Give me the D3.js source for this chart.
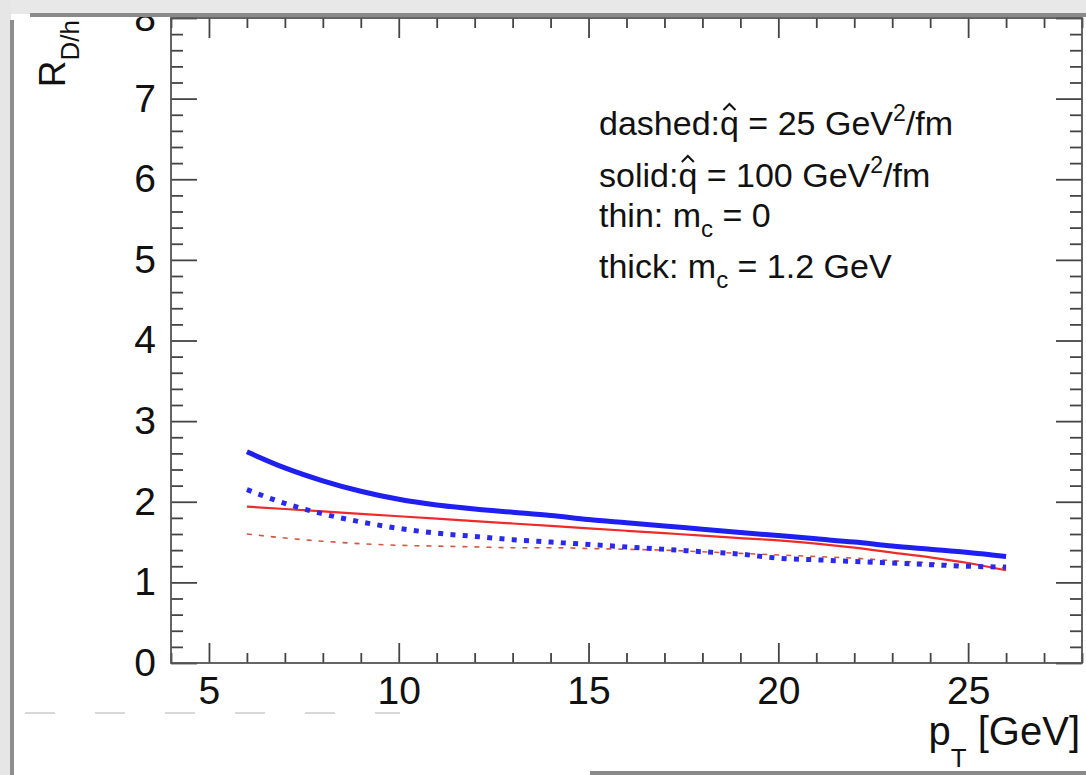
<!DOCTYPE html>
<html>
<head>
<meta charset="utf-8">
<script src="https://cdn.jsdelivr.net/npm/d3@7/dist/d3.min.js"></script>
<style>
    body { margin: 0; background: #fff; }
    svg { display: block; }
    text { font-family: "Liberation Sans", Arial, sans-serif; fill: #111; }
</style>
</head>
<body>
<div id="chart"></div>
<script>
    // pT grid of the curves [GeV]
    var pt = [6, 7, 8, 9, 10, 11, 12, 13, 14, 15, 16, 17, 18, 19, 20, 21, 22, 23, 24, 25, 26];

    // R_D/h
    var solid_thick = [2.62, 2.42, 2.26, 2.13, 2.03, 1.96, 1.91, 1.87, 1.83, 1.78, 1.74, 1.70, 1.66, 1.62, 1.58, 1.54, 1.50, 1.45, 1.41, 1.37, 1.32];   // qhat=100, mc=1.2
    var solid_thin  = [1.94, 1.91, 1.88, 1.85, 1.82, 1.79, 1.76, 1.73, 1.70, 1.67, 1.64, 1.61, 1.58, 1.55, 1.52, 1.48, 1.43, 1.37, 1.31, 1.24, 1.15];   // qhat=100, mc=0
    var dashed_thick = [2.15, 1.98, 1.85, 1.75, 1.67, 1.61, 1.57, 1.53, 1.50, 1.47, 1.44, 1.41, 1.38, 1.35, 1.30, 1.28, 1.26, 1.24, 1.22, 1.20, 1.19]; // qhat=25, mc=1.2
    var dashed_thin  = [1.60, 1.55, 1.51, 1.48, 1.46, 1.45, 1.44, 1.43, 1.43, 1.42, 1.41, 1.40, 1.38, 1.36, 1.34, 1.32, 1.30, 1.27, 1.24, 1.21, 1.18]; // qhat=25, mc=0

    var x_domain = [4, 28],
        y_domain = [0, 8];
    var x_major = [5, 10, 15, 20, 25],
        x_minor = d3.range(4, 29, 1).filter(function(v){ return v % 5 != 0; }),
        y_major = [0, 1, 2, 3, 4, 5, 6, 7, 8],
        y_minor = d3.range(1, 40).map(function(i){ return i * 0.2; }).filter(function(v){ return Math.abs(v - Math.round(v)) > 0.01; });

    var legend_lines = [
        {pre: 'dashed:', hat: 'q', post: ' = 25 GeV', sup: '2', tail: '/fm'},
        {pre: 'solid:', hat: 'q', post: ' = 100 GeV', sup: '2', tail: '/fm'},
        {pre: 'thin: m', sub: 'c', post: ' = 0'},
        {pre: 'thick: m', sub: 'c', post: ' = 1.2 GeV'}
    ];

    var width = 1086, height = 775;
    var frame = {left: 171, right: 1082, top: 18, bottom: 663};

    var x_scale = d3.scaleLinear().domain(x_domain).range([frame.left, frame.right]);
    var y_scale = d3.scaleLinear().domain(y_domain).range([frame.bottom, frame.top]);

    var svg = d3.select('#chart').append('svg')
        .attr('width', width)
        .attr('height', height);

    svg.append('rect').attr('width', width).attr('height', height).attr('fill', '#fff');

    // ticks, ROOT style: all pointing inward, on all four sides
    function style_axis(g){
        g.select('.domain').remove();
        g.selectAll('line').attr('stroke', '#444').attr('stroke-width', 1.8);
        g.selectAll('text').attr('font-size', 39).attr('fill', '#111')
            .style('font-family', '"Liberation Sans", Arial, sans-serif');
    }

    svg.append('g').attr('transform', 'translate(0,' + frame.bottom + ')')
        .call(d3.axisBottom(x_scale).tickValues(x_major).tickSize(-20).tickPadding(13).tickFormat(d3.format('d')))
        .call(style_axis);
    svg.append('g').attr('transform', 'translate(0,' + frame.bottom + ')')
        .call(d3.axisBottom(x_scale).tickValues(x_minor).tickSize(-10).tickFormat(''))
        .call(style_axis);
    svg.append('g').attr('transform', 'translate(0,' + frame.top + ')')
        .call(d3.axisTop(x_scale).tickValues(x_major).tickSize(-20).tickFormat(''))
        .call(style_axis);
    svg.append('g').attr('transform', 'translate(0,' + frame.top + ')')
        .call(d3.axisTop(x_scale).tickValues(x_minor).tickSize(-10).tickFormat(''))
        .call(style_axis);

    svg.append('g').attr('transform', 'translate(' + frame.left + ',0)')
        .call(d3.axisLeft(y_scale).tickValues(y_major).tickSize(-26).tickPadding(15).tickFormat(d3.format('d')))
        .call(style_axis);
    svg.append('g').attr('transform', 'translate(' + frame.left + ',0)')
        .call(d3.axisLeft(y_scale).tickValues(y_minor).tickSize(-12).tickFormat(''))
        .call(style_axis);
    svg.append('g').attr('transform', 'translate(' + frame.right + ',0)')
        .call(d3.axisRight(y_scale).tickValues(y_major).tickSize(-26).tickFormat(''))
        .call(style_axis);
    svg.append('g').attr('transform', 'translate(' + frame.right + ',0)')
        .call(d3.axisRight(y_scale).tickValues(y_minor).tickSize(-12).tickFormat(''))
        .call(style_axis);

    svg.append('rect')
        .attr('x', frame.left).attr('y', frame.top)
        .attr('width', frame.right - frame.left).attr('height', frame.bottom - frame.top)
        .attr('fill', 'none').attr('stroke', '#555').attr('stroke-width', 1.8);

    // curves
    var line = d3.line()
        .x(function(d){ return x_scale(d[0]); })
        .y(function(d){ return y_scale(d[1]); })
        .curve(d3.curveMonotoneX);

    function pairs(vals){ return pt.map(function(p, i){ return [p, vals[i]]; }); }

    var curves = [
        {vals: dashed_thin,  color: '#d4553f', width: 1.6, dash: '5 7'},
        {vals: solid_thin,   color: '#f02a2a', width: 2.2, dash: null},
        {vals: dashed_thick, color: '#2a2aee', width: 5,   dash: '5 7.3'},
        {vals: solid_thick,  color: '#1f1ff0', width: 5,   dash: null}
    ];

    svg.selectAll('path.curve')
        .data(curves)
        .enter().append('path')
        .attr('class', 'curve')
        .attr('d', function(d){ return line(pairs(d.vals)); })
        .attr('fill', 'none')
        .attr('stroke', function(d){ return d.color; })
        .attr('stroke-width', function(d){ return d.width; })
        .attr('stroke-dasharray', function(d){ return d.dash; });

    // legend text
    var legend_x = 599,
        legend_y = [135, 187, 227, 278],
        legend_size = 34;

    legend_lines.forEach(function(l, i){
        var t = svg.append('text')
            .attr('x', legend_x)
            .attr('y', legend_y[i])
            .attr('font-size', legend_size);
        t.append('tspan').text(l.pre);
        if(l.hat){
            t.append('tspan').text(l.hat);
        }
        if(l.sub){
            t.append('tspan').attr('font-size', 24).attr('dy', 10).text(l.sub);
            t.append('tspan').attr('dy', -10).text(l.post);
        } else {
            t.append('tspan').text(l.post);
        }
        if(l.sup){
            t.append('tspan').attr('font-size', 23).attr('dy', -14).text(l.sup);
            t.append('tspan').attr('dy', 14).text(l.tail);
        }
        if(l.hat){
            var ext = t.node().getExtentOfChar(l.pre.length);
            var cx = ext.x + ext.width / 2,
                top = legend_y[i] - 31;
            svg.append('path')
                .attr('d', 'M' + (cx - 6) + ',' + (top + 6) + 'L' + cx + ',' + top + 'L' + (cx + 6) + ',' + (top + 6))
                .attr('fill', 'none')
                .attr('stroke', '#111')
                .attr('stroke-width', 2);
        }
    });

    // axis titles
    var y_title = svg.append('text')
        .attr('transform', 'translate(65,' + (frame.top + 2) + ') rotate(-90)')
        .attr('text-anchor', 'end')
        .attr('font-size', 37);
    y_title.append('tspan').text('R');
    y_title.append('tspan').attr('font-size', 26).attr('dy', 14).text('D/h');

    var x_title = svg.append('text')
        .attr('x', 1080)
        .attr('y', 745)
        .attr('text-anchor', 'end')
        .attr('font-size', 40);
    x_title.append('tspan').text('p');
    x_title.append('tspan').attr('font-size', 26).attr('dy', 22).text('T');
    x_title.append('tspan').attr('dy', -22).text(' [GeV]');

    // screenshot border around the canvas
    svg.append('rect').attr('x', 0).attr('y', 0).attr('width', width).attr('height', 14).attr('fill', '#e8e8e8');
    svg.append('rect').attr('x', 0).attr('y', 0).attr('width', 11).attr('height', height).attr('fill', '#e6e6e6');
    svg.append('line').attr('x1', 30).attr('x2', width).attr('y1', 15).attr('y2', 15)
        .attr('stroke', '#8a8a8a').attr('stroke-width', 4);
    svg.append('line').attr('x1', 12).attr('x2', 12).attr('y1', 20).attr('y2', height)
        .attr('stroke', '#8e8e8e').attr('stroke-width', 4);
    svg.append('line').attr('x1', 25).attr('x2', 400).attr('y1', 713).attr('y2', 713)
        .attr('stroke', '#d8d8d8').attr('stroke-width', 2).attr('stroke-dasharray', '30 40');
    svg.append('line').attr('x1', 590).attr('x2', width).attr('y1', 773).attr('y2', 773)
        .attr('stroke', '#8a8a8a').attr('stroke-width', 4);
</script>
</body>
</html>
